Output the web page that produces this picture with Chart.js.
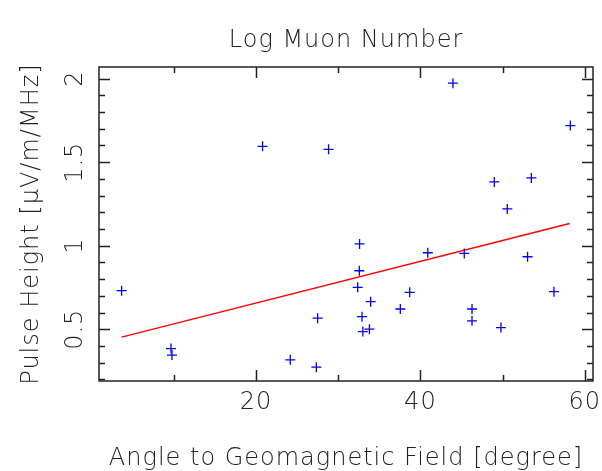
<!DOCTYPE html>
<html lang="en">

<head>
    <meta charset="UTF-8" />
    <title>Log Muon Number</title>
    <script src="https://cdn.jsdelivr.net/npm/chart.js@4"></script>
    <style>
        html, body { margin: 0; padding: 0; background: #fff; }
        #wrap { width: 602px; height: 471px; }
    </style>
</head>

<body>
    <div id="wrap"><canvas id="chart"></canvas></div>
    <script>
        // angle to the geomagnetic field [degree] for each event
        const angles = [3.65, 9.66, 9.78, 20.8, 24.17, 27.34, 27.5, 28.83, 32.6, 32.57,
            32.37, 32.9, 33.0, 33.8, 33.95, 37.56, 38.7, 40.9, 43.96, 45.34,
            46.28, 46.28, 48.99, 49.8, 50.57, 53.5, 53.04, 56.25, 58.24];
        // pulse height [uV/m/MHz] for each event
        const heights = [0.731, 0.384, 0.345, 1.595, 0.317, 0.273, 0.566, 1.577, 1.011, 0.850,
            0.751, 0.575, 0.486, 0.500, 0.665, 0.621, 0.721, 0.958, 1.973, 0.954,
            0.621, 0.550, 1.382, 0.510, 1.220, 1.406, 0.934, 0.725, 1.719];
        // straight line fit, end points
        const fitX = [3.65, 58.15];
        const fitY = [0.452, 1.133];

        // axis ranges and ticks
        const xRange = [0.9, 61];
        const yRange = [0.19, 2.07];
        const xMajor = [20, 40, 60];
        const xMinor = [10, 30, 50];
        const yMajor = [0.5, 1, 1.5, 2];
        const yMinor = [0.2, 0.3, 0.4, 0.6, 0.7, 0.8, 0.9, 1.1, 1.2, 1.3, 1.4, 1.6, 1.7, 1.8, 1.9];

        const FONT = '"DejaVu Sans", sans-serif';
        const INK = '#222';

        // wider letter spacing for all text
        const spacing = {
            id: 'spacing',
            beforeDraw(chart) {
                chart.ctx.letterSpacing = '1px';
            }
        };

        // frame with inward ticks on all four sides + rotated y labels
        const frame = {
            id: 'frame',
            afterDraw(chart) {
                const { ctx, chartArea: a, scales } = chart;
                const sx = scales.x, sy = scales.y;
                ctx.save();
                ctx.strokeStyle = INK;
                ctx.lineWidth = 1.5;
                ctx.strokeRect(a.left, a.top, a.right - a.left, a.bottom - a.top);

                const tick = (vals, len) => {
                    ctx.beginPath();
                    vals.forEach(v => {
                        const px = Math.round(sx.getPixelForValue(v)) + 0.5;
                        ctx.moveTo(px, a.bottom); ctx.lineTo(px, a.bottom - len);
                        ctx.moveTo(px, a.top); ctx.lineTo(px, a.top + len);
                    });
                    ctx.stroke();
                };
                const ytick = (vals, len) => {
                    ctx.beginPath();
                    vals.forEach(v => {
                        const py = Math.round(sy.getPixelForValue(v)) + 0.5;
                        ctx.moveTo(a.left, py); ctx.lineTo(a.left + len, py);
                        ctx.moveTo(a.right, py); ctx.lineTo(a.right - len, py);
                    });
                    ctx.stroke();
                };
                tick(xMajor, 11);
                tick(xMinor, 6);
                ytick(yMajor, 11);
                ytick(yMinor, 6);

                // y tick labels, reading bottom to top
                ctx.fillStyle = INK;
                ctx.font = '200 24px ' + FONT;
                ctx.textAlign = 'center';
                ctx.textBaseline = 'alphabetic';
                yMajor.forEach(v => {
                    ctx.save();
                    ctx.translate(82, sy.getPixelForValue(v));
                    ctx.rotate(-Math.PI / 2);
                    ctx.fillText(String(v), 0, 0);
                    ctx.restore();
                });
                ctx.restore();
            }
        };

        const ctx = document.getElementById('chart').getContext('2d');
        new Chart(ctx, {
            type: 'scatter',
            data: {
                datasets: [{
                    data: angles.map((x, i) => ({ x, y: heights[i] })),
                    pointStyle: 'cross',
                    pointRadius: 5,
                    pointBorderWidth: 1.3,
                    borderColor: '#0000ff',
                    backgroundColor: '#0000ff'
                }, {
                    data: fitX.map((x, i) => ({ x, y: fitY[i] })),
                    showLine: true,
                    pointRadius: 0,
                    borderColor: '#ff0000',
                    borderWidth: 1.3
                }]
            },
            options: {
                responsive: true,
                maintainAspectRatio: false,
                animation: false,
                events: [],
                layout: { padding: { left: 0, right: 9, top: 0, bottom: 0 } },
                plugins: {
                    legend: { display: false },
                    tooltip: { enabled: false },
                    title: {
                        display: true,
                        fullSize: false,
                        text: 'Log Muon Number',
                        color: INK,
                        font: { family: FONT, size: 24, weight: 200, lineHeight: 1 },
                        padding: { top: 29, bottom: 14 }
                    }
                },
                scales: {
                    x: {
                        type: 'linear',
                        min: xRange[0],
                        max: xRange[1],
                        grid: { display: false, drawTicks: false },
                        border: { display: false },
                        afterBuildTicks: s => { s.ticks = xMajor.map(v => ({ value: v })); },
                        afterFit: s => { s.height = 90; s.paddingLeft = 0; s.paddingRight = 0; },
                        ticks: {
                            color: INK,
                            padding: 10,
                            maxRotation: 0,
                            font: { family: FONT, size: 24, weight: 200, lineHeight: 1 }
                        },
                        title: {
                            display: true,
                            text: 'Angle to Geomagnetic Field [degree]',
                            color: INK,
                            font: { family: FONT, size: 24, weight: 200, lineHeight: 1 },
                            padding: { top: 0, bottom: 0 }
                        }
                    },
                    y: {
                        min: yRange[0],
                        max: yRange[1],
                        grid: { display: false, drawTicks: false },
                        border: { display: false },
                        afterBuildTicks: s => { s.ticks = yMajor.map(v => ({ value: v })); },
                        afterFit: s => { s.width = 99; s.paddingTop = 0; s.paddingBottom = 0; },
                        ticks: { display: false },
                        title: {
                            display: true,
                            text: 'Pulse Height [\u03bcV/m/MHz]',
                            color: INK,
                            font: { family: FONT, size: 24, weight: 200, lineHeight: 1 },
                            padding: { top: 20, bottom: 0 }
                        }
                    }
                }
            },
            plugins: [spacing, frame]
        });
    </script>
</body>

</html>
